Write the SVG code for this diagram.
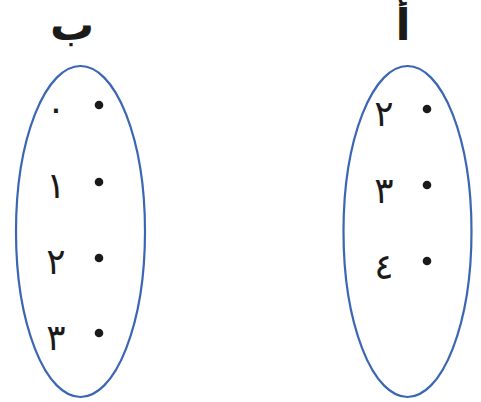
<svg xmlns="http://www.w3.org/2000/svg" width="481" height="402" viewBox="0 0 481 402">
<style>
.set{fill:none;stroke:#3a66b3;stroke-width:2.2}
.dot{fill:#1a1a1a}
.t{font-family:"DejaVu Sans",sans-serif;font-size:36px;fill:#1a1a1a;text-anchor:middle}
.h{font-family:"DejaVu Sans",sans-serif;font-size:44px;font-weight:bold;fill:#1a1a1a;text-anchor:middle}
</style>
<rect width="481" height="402" fill="#fff"/>
<g id="setB">
<ellipse class="set" cx="80.5" cy="231.5" rx="64.5" ry="165.5"/>
<text class="h" x="72" y="40">ب</text>
<circle class="dot" cx="99" cy="105" r="4.3"/>
<circle class="dot" cx="99" cy="182" r="4.3"/>
<circle class="dot" cx="99" cy="258" r="4.3"/>
<circle class="dot" cx="99" cy="333" r="4.3"/>
<text class="t" x="56" y="121">٠</text>
<text class="t" x="56" y="198">١</text>
<text class="t" x="56" y="274">٢</text>
<text class="t" x="56" y="350">٣</text>
</g>
<g id="setA">
<ellipse class="set" cx="407.5" cy="231.5" rx="64" ry="165.5"/>
<text class="h" x="403" y="40">أ</text>
<circle class="dot" cx="427" cy="109" r="4.3"/>
<circle class="dot" cx="427" cy="185" r="4.3"/>
<circle class="dot" cx="427" cy="261" r="4.3"/>
<text class="t" x="384" y="126">٢</text>
<text class="t" x="384" y="203">٣</text>
<text class="t" x="384" y="279">٤</text>
</g>
</svg>
